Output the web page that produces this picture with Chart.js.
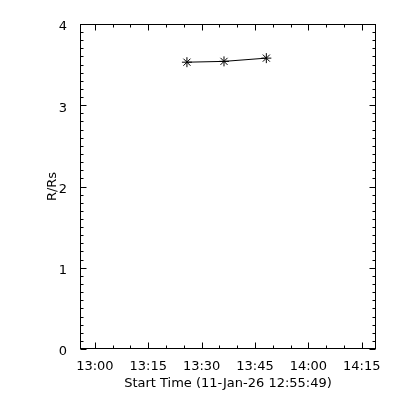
<!DOCTYPE html>
<html>
<head>
<meta charset="utf-8">
<script src="https://cdn.jsdelivr.net/npm/chart.js@4"></script>
<style>
  html, body { margin: 0; padding: 0; background: #fff; }
  #wrap { width: 400px; height: 400px; }
</style>
</head>
<body>
<div id="wrap"><canvas id="myChart" width="400" height="400"></canvas></div>
<script>
const startTimes = ['13:25:52', '13:36:17', '13:48:11'];
const heights = [3.53, 3.54, 3.58];
const xTickLabels = ['13:00', '13:15', '13:30', '13:45', '14:00', '14:15'];
const xMinorStep = 5;
const xStart = '12:55:49';
const xEnd = '14:19:00';
const yTicks = [0, 1, 2, 3, 4];
const yMinorStep = 0.1;

function toMin(s) {
  const p = s.split(':').map(Number);
  return p[0] * 60 + p[1] + (p[2] || 0) / 60;
}
function fmt(v) {
  const h = Math.floor(v / 60), m = Math.round(v - h * 60);
  return String(h).padStart(2, '0') + ':' + String(m).padStart(2, '0');
}

const xMajor = xTickLabels.map(toMin);
const points = startTimes.map((t, i) => ({ x: toMin(t), y: heights[i] }));

// IDL style box with inward ticks on all four sides
const idlFrame = {
  id: 'idlFrame',
  afterDraw(chart) {
    const ctx = chart.ctx;
    const a = chart.chartArea;
    const xs = chart.scales.x, ys = chart.scales.y;
    const L = Math.round(a.left) + 0.5, R = Math.round(a.right) - 0.5;
    const T = Math.round(a.top) + 0.5, B = Math.round(a.bottom) - 0.5;
    ctx.save();
    ctx.strokeStyle = '#000';
    ctx.lineWidth = 1;
    ctx.strokeRect(L, T, R - L, B - T);
    ctx.beginPath();
    // x ticks
    for (let v = Math.ceil(xs.min / xMinorStep) * xMinorStep; v <= xs.max; v += xMinorStep) {
      const px = Math.round(xs.getPixelForValue(v)) + 0.5;
      const len = (v % 15 === 0) ? 6 : 3;
      ctx.moveTo(px, B); ctx.lineTo(px, B - len);
      ctx.moveTo(px, T); ctx.lineTo(px, T + len);
    }
    // y ticks
    for (let i = 0; i <= Math.round((ys.max - ys.min) / yMinorStep); i++) {
      const v = ys.min + i * yMinorStep;
      const py = Math.round(ys.getPixelForValue(v)) + 0.5;
      const len = (i % 10 === 0) ? 6 : 3;
      ctx.moveTo(L, py); ctx.lineTo(L + len, py);
      ctx.moveTo(R, py); ctx.lineTo(R - len, py);
    }
    ctx.stroke();
    ctx.restore();
  }
};

const font = { family: 'DejaVu Sans', size: 13 };

const config = {
  type: 'line',
  data: {
    datasets: [{
      data: points,
      borderColor: '#000',
      backgroundColor: '#000',
      borderWidth: 1,
      pointStyle: 'star',
      pointRadius: 5,
      pointBorderWidth: 1,
      pointBorderColor: '#000',
      tension: 0
    }]
  },
  options: {
    responsive: false,
    animation: false,
    events: [],
    layout: { padding: { left: 0, top: 24, right: 24, bottom: 0 } },
    plugins: { legend: { display: false }, tooltip: { enabled: false } },
    scales: {
      x: {
        type: 'linear',
        min: toMin(xStart),
        max: toMin(xEnd),
        grid: { display: false },
        border: { display: false },
        afterBuildTicks: s => { s.ticks = xMajor.map(v => ({ value: v })); },
        afterFit: s => { s.height = 51; s.paddingLeft = 0; s.paddingRight = 0; },
        ticks: { font: font, color: '#000', padding: 2, maxRotation: 0, autoSkip: false, callback: v => fmt(v) },
        title: { display: true, text: 'Start Time (11-Jan-26 12:55:49)', font: font, color: '#000', padding: { top: 0, bottom: 9 } }
      },
      y: {
        min: 0,
        max: 4,
        grid: { display: false },
        border: { display: false },
        afterBuildTicks: s => { s.ticks = yTicks.map(v => ({ value: v })); },
        afterFit: s => { s.width = 80; s.paddingTop = 0; s.paddingBottom = 0; },
        ticks: { font: font, color: '#000', padding: 5, labelOffset: 3 },
        title: { display: true, text: 'R/Rs', font: font, color: '#000', padding: { top: 45, bottom: 0 } }
      }
    }
  },
  plugins: [idlFrame]
};

const myChart = new Chart(document.getElementById('myChart'), config);
</script>
</body>
</html>
